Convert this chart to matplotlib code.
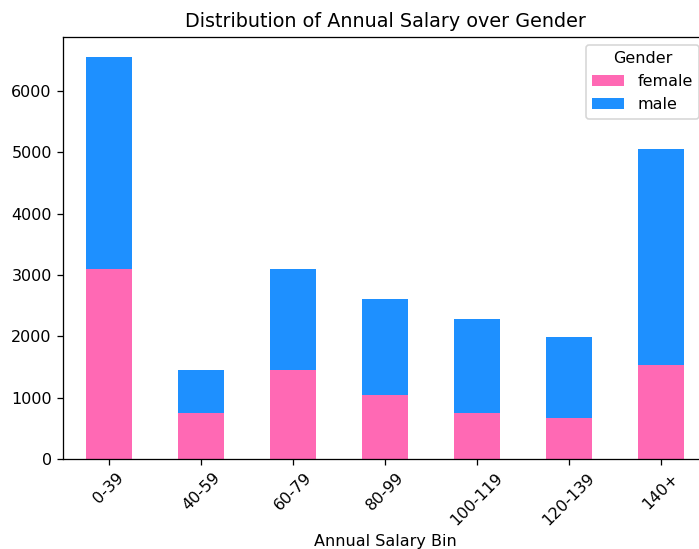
import numpy as np
import pandas as pd
import matplotlib
matplotlib.use('Agg')
import matplotlib.pyplot as plt

# data
bins = ['0-39', '40-59', '60-79', '80-99', '100-119', '120-139', '140+']
female = [3098, 750, 1451, 1043, 750, 668, 1533]
male = [3457, 701, 1647, 1566, 1533, 1321, 3522]

df = pd.DataFrame({'female': female, 'male': male}, index=bins)
df.index.name = 'Annual Salary Bin'
df.columns.name = 'Gender'

# the reference looks rendered at a slightly higher dpi
dpi = 115
fig = plt.figure(figsize=(699 / dpi, 549 / dpi), dpi=dpi)
ax = fig.add_axes([0.0901, 0.1639, 0.9213, 0.7687])

df.plot(kind='bar', stacked=True, ax=ax, color=['hotpink', 'dodgerblue'])
ax.set_title('Distribution of Annual Salary over Gender')
ax.set_xlabel('Annual Salary Bin')
plt.setp(ax.get_xticklabels(), rotation=45)
ax.legend(title='Gender', loc='upper right')

plt.savefig('out.png', dpi=dpi)
